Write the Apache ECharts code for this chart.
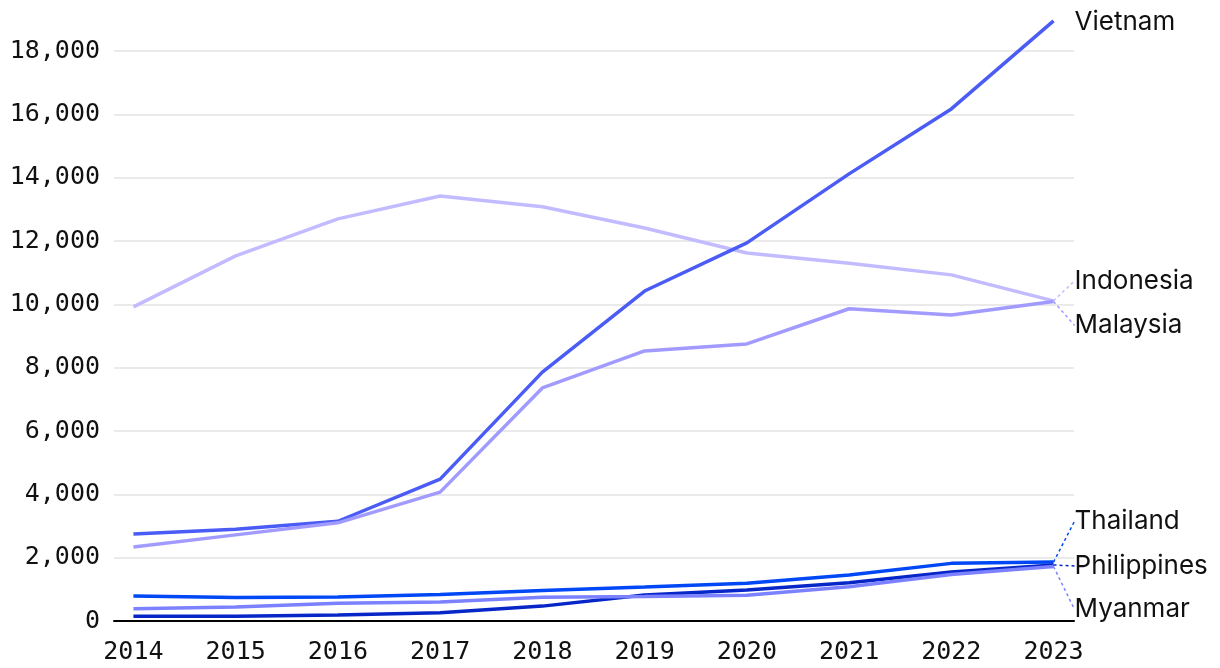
<!DOCTYPE html>
<html><head><meta charset="utf-8">
<script src="https://cdn.jsdelivr.net/npm/echarts@6/dist/echarts.min.js"></script>
<style>html,body{margin:0;padding:0;background:#fff}#c{width:1220px;height:668px}</style>
</head><body><div id="c"></div>
<script>
const years = [2014,2015,2016,2017,2018,2019,2020,2021,2022,2023];
const yTicks = [0,2000,4000,6000,8000,10000,12000,14000,16000,18000];
const vietnam     = [2750,2900,3150,4480,7860,10420,11940,14120,16170,18950];
const indonesia   = [9920,11530,12700,13420,13080,12410,11620,11300,10930,10110];
const malaysia    = [2340,2720,3100,4070,7360,8530,8750,9860,9660,10090];
const thailand    = [790,740,760,840,960,1070,1190,1450,1820,1860];
const philippines = [150,150,190,260,470,820,980,1210,1550,1770];
const myanmar     = [390,440,560,600,750,770,810,1080,1470,1720];

const seriesDefs = [
  {name:'Vietnam', data:vietnam, color:'#4a5cf5', dy:1, guide:false},
  {name:'Indonesia', data:indonesia, color:'#c3bbff', dy:-20, guide:true},
  {name:'Malaysia', data:malaysia, color:'#a29bff', dy:24, guide:true},
  {name:'Thailand', data:thailand, color:'#0048f5', dy:-41, guide:true},
  {name:'Philippines', data:philippines, color:'#0726c8', dy:1, guide:true},
  {name:'Myanmar', data:myanmar, color:'#7c82ff', dy:43, guide:true}
];

const chart = echarts.init(document.getElementById('c'));
chart.setOption({
  animation:false,
  grid:{left:114,right:146,top:51,bottom:47},
  xAxis:{
    type:'value', min:2013.81, max:2023.2,
    axisLine:{show:true,lineStyle:{color:'#000',width:2}},
    axisTick:{show:false},
    splitLine:{show:false},
    axisLabel:{customValues:years, fontFamily:'DejaVu Sans Mono', fontSize:25, color:'#111', margin:19,
      formatter:v=>String(v)}
  },
  yAxis:{
    type:'value', min:0, max:18000, interval:2000,
    axisLine:{show:false}, axisTick:{show:false},
    splitLine:{lineStyle:{color:'#e3e3e3',width:1.5}},
    axisLabel:{customValues:yTicks, fontFamily:'DejaVu Sans Mono', fontSize:25, color:'#111', margin:14,
      formatter:v=>v.toLocaleString('en-US')}
  },
  series: seriesDefs.map(s=>({
    name:s.name, type:'line', clip:false,
    symbol:'circle', symbolSize:0, showSymbol:true,
    lineStyle:{color:s.color,width:3.5},
    itemStyle:{color:s.color},
    z: s.name==='Indonesia'?1:2,
    data: s.data.map((v,i)=>({
      value:[years[i],v],
      label: i===years.length-1 ? {show:true} : {show:false}
    })),
    label:{position:'right', distance:21, formatter:s.name, fontFamily:'Inter', fontSize:26, color:'#111'},
    labelLayout:{dy:s.dy},
    labelLine:{show:s.guide, lineStyle:{color:s.color,type:[3,3],width:1.5}}
  }))
});
</script></body></html>
